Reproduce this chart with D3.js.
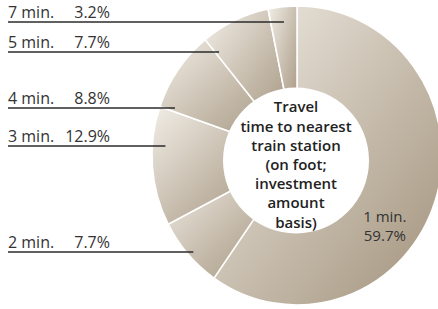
<!DOCTYPE html>
<html><head><meta charset="utf-8">
<script src="https://cdn.jsdelivr.net/npm/d3@7"></script>
<style>html,body{margin:0;padding:0;background:#fff;}svg{display:block;}</style>
</head><body>
<svg id="chart" width="438" height="309"></svg>
<script>
// Data (clockwise from top)
const categories = ["1 min.", "2 min.", "3 min.", "4 min.", "5 min.", "7 min."];
const values = [59.7, 7.7, 12.9, 8.8, 7.7, 3.2];
const valueLabels = ["59.7%", "7.7%", "12.9%", "8.8%", "7.7%", "3.2%"];
const centerTitle = ["Travel", "time to nearest", "train station", "(on foot;", "investment", "amount", "basis)"];

// Layout
const cx = 297, cy = 155.5, rOuter = 149.5, sx = 0.97;
const holeCx = 296, holeCy = 160.5, holeR = 73;
const leaderY = {"2 min.": 252, "3 min.": 146, "4 min.": 108, "5 min.": 52, "7 min.": 22};
const leaderR = {"2 min.": 144, "3 min.": 136, "4 min.": 134.5, "5 min.": 131, "7 min.": 0};
const font = "'Open Sans', 'Noto Sans', sans-serif";

const svg = d3.select("#chart");
const defs = svg.append("defs");
const grad = defs.append("linearGradient").attr("id", "g")
  .attr("x1", 0).attr("y1", 0).attr("x2", 1).attr("y2", 1);
grad.append("stop").attr("offset", "0%").attr("stop-color", "#f1ede6");
grad.append("stop").attr("offset", "100%").attr("stop-color", "#a1917a");

const pie = d3.pie().sort(null).value(d => d.v).startAngle(0).endAngle(2 * Math.PI);
const data = categories.map((c, i) => ({c, v: values[i], lab: valueLabels[i]}));
const arcs = pie(data);
const arc = d3.arc().innerRadius(30).outerRadius(rOuter);

const g = svg.append("g").attr("transform", `translate(${cx},${cy}) scale(${sx},1)`);
g.selectAll("path.slice").data(arcs).enter().append("path")
  .attr("class", "slice")
  .attr("d", arc)
  .attr("fill", "url(#g)")
  .attr("stroke", "#fff").attr("stroke-width", 1.6);

svg.append("circle").attr("cx", holeCx).attr("cy", holeCy).attr("r", holeR).attr("fill", "#fff");

// Leader lines + labels for small slices
arcs.slice(1).forEach(a => {
  const ly = leaderY[a.data.c];
  const dy = ly - cy;
  const r = leaderR[a.data.c];
  let ex;
  if (Math.abs(dy) < r) {
    ex = cx - sx * Math.sqrt(r * r - dy * dy);
  } else {
    const mid = (a.startAngle + a.endAngle) / 2;
    ex = cx - sx * Math.abs(dy) * Math.tan(2 * Math.PI - mid);
  }
  svg.append("line").attr("x1", 8).attr("x2", ex).attr("y1", ly).attr("y2", ly)
    .attr("stroke", "#2b2b2b").attr("stroke-width", 1.3);
  svg.append("text").attr("x", 8).attr("y", ly - 4)
    .attr("font-family", font).attr("font-size", 16).attr("fill", "#333")
    .text(a.data.c);
  svg.append("text").attr("x", 110).attr("y", ly - 4).attr("text-anchor", "end")
    .attr("font-family", font).attr("font-size", 16).attr("fill", "#333")
    .text(a.data.lab);
});

// Big slice label
const big = arcs[0];
const ang = 127 * Math.PI / 180;
const bx = cx + 110 * Math.sin(ang), by = cy - 110 * Math.cos(ang);
[big.data.c, big.data.lab].forEach((t, i) => {
  svg.append("text").attr("text-anchor", "middle")
    .attr("x", bx).attr("y", by + i * 19.5)
    .attr("font-family", font).attr("font-size", 15).attr("fill", "#333")
    .text(t);
});

// Center title
const lh = 19.2;
const tcY = 164.5;
const ct = svg.append("text").attr("text-anchor", "middle")
  .attr("font-family", font).attr("font-size", 15).attr("font-weight", 600).attr("fill", "#222");
centerTitle.forEach((t, i) => {
  ct.append("tspan").attr("x", holeCx).attr("y", tcY - (centerTitle.length - 1) / 2 * lh + i * lh + 5.5).text(t);
});
</script>
</body></html>
